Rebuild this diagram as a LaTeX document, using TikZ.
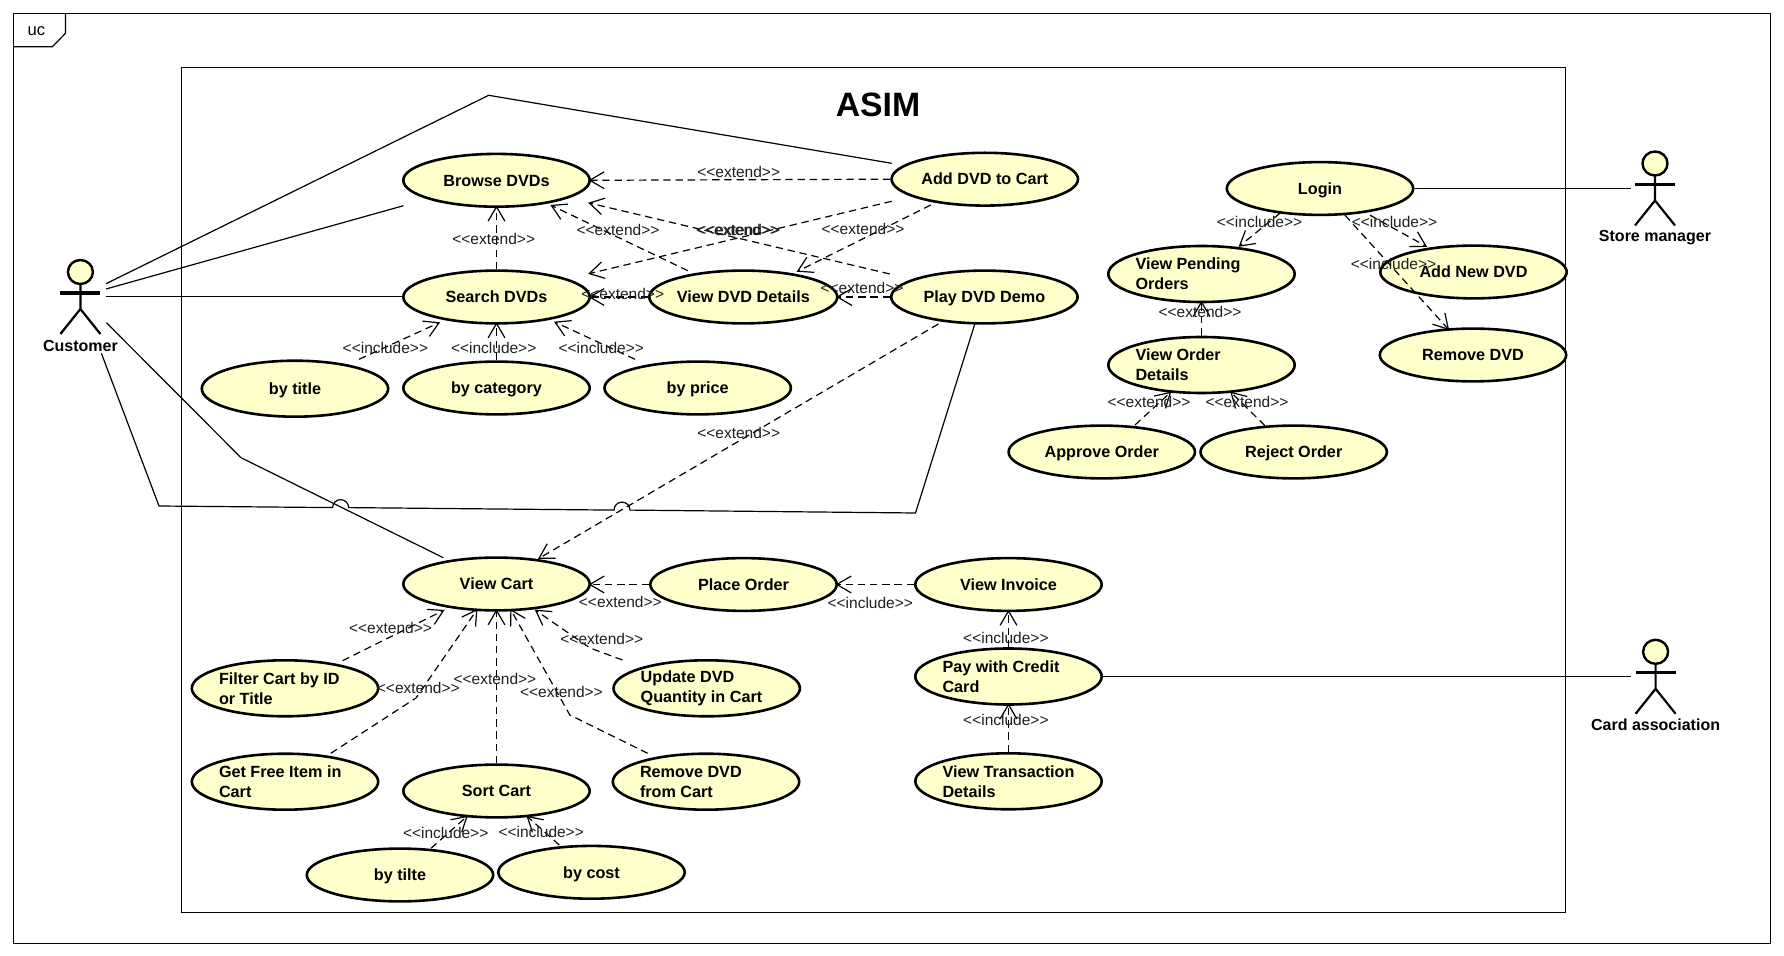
\documentclass[tikz,border=0pt]{standalone}
\usepackage{fontspec}
\setmainfont{Liberation Sans}
\usetikzlibrary{shapes.geometric,arrows.meta}
\definecolor{ucfill}{HTML}{FFFFCB}
\newcommand{\ucbig}[2]{\makebox[0pt]{\parbox{66pt}{\baselineskip=10pt\relax #1\\#2}}}
\tikzset{
  usecasetall/.style={ellipse,draw=black,fill=ucfill,line width=1.3pt,inner sep=0pt,outer sep=.65pt,
    minimum width=93.2pt,minimum height=28pt,font=\fontsize{8.1pt}{10pt}\selectfont\bfseries},
  usecase/.style={usecasetall,minimum height=26.4pt,text height=5.8pt,text depth=0pt},
  stereo/.style={inner sep=0pt,font=\fontsize{7.75pt}{10pt}\selectfont,text=black!88},
  actorname/.style={inner sep=0pt,font=\fontsize{8pt}{10pt}\selectfont\bfseries},
  dep/.style={line width=.6pt,dash pattern=on 3.7pt off 2.4pt,shorten >=-1.2pt,
    -{Straight Barb[length=7.2pt,width=8.4pt,line width=.6pt]}},
  assoc/.style={line width=.6pt,line join=miter},
  frameline/.style={line width=.6pt},
  actorfig/.pic={
    \draw[line width=1.2pt,fill=ucfill] (0,0) ellipse [x radius=12.5,y radius=12];
    \draw[line width=1.6pt] (-20,21) -- (20,21);
    \draw[line width=1.1pt,line join=miter] (0,12) -- (0,37) (-20,62) -- (0,37) -- (20,62);
  }
}
\begin{document}
\begin{tikzpicture}[x=.5pt,y=-.5pt]
\useasboundingbox (0,0) rectangle (1784,956);
\fill[white] (0,0) rectangle (1784,956);
% frames
\draw[frameline] (13.5,13.5) rectangle (1770.5,943.5);
\draw[frameline] (13.5,46.7) -- (52.4,46.7) -- (65.5,33.3) -- (65.5,13.5);
\node[inner sep=0pt,font=\fontsize{8.3pt}{10pt}\selectfont] (uc) at (36.4,30.7) {uc};
\draw[frameline] (181.5,67.5) rectangle (1565.5,912.5);
\node[inner sep=0pt,font=\fontsize{16.9pt}{20pt}\selectfont\bfseries] (title) at (878,105) {ASIM};
% actor anchors
\node[coordinate] (customer) at (80.4,306.5) {};
\node[coordinate] (storem) at (1631,188.5) {};
\node[coordinate] (cardas) at (1630.5,676.5) {};
% associations are drawn first, so that use cases lie over them
\node[coordinate] (addc) at (984.8,179.2) {};
\draw[assoc] ([shift={(25.6,-22.8)}]customer.center) -- (488.7,95.3) -- ([shift={(-93.1,-15.9)}]addc.center);
\node[coordinate] (browsec) at (496.5,180.3) {};
\draw[assoc] ([shift={(25.6,-17.5)}]customer.center) -- ([shift={(-93,25.4)}]browsec.center);
\node[coordinate] (searchc) at (496.5,297) {};
\draw[assoc] ([shift={(25.6,-10)}]customer.center) -- ([shift={(-94,-0.5)}]searchc.center);
\node[coordinate] (cartc) at (496.5,584) {};
\draw[assoc] ([shift={(26,16.2)}]customer.center) -- (241,457.7) -- ([shift={(-53.2,-26.3)}]cartc.center);
\node[coordinate] (playc) at (984.4,297) {};
\draw[assoc] ([shift={(21,46.8)}]customer.center) -- (159,506) -- (332.6,507.6)
   arc[start angle=180,end angle=360,radius=8] -- (614,510.1)
   arc[start angle=180,end angle=360,radius=8] -- (915.5,513) -- ([shift={(-9.6,27)}]playc.center);
% use cases
\node[usecase] (browse) at (browsec) {Browse DVDs};
\node[usecase] (search) at (searchc) {Search DVDs};
\node[usecase,minimum height=28pt] (bytitle) at (295,388.7) {by title};
\node[usecase] (bycat) at (496.5,388) {by category};
\node[usecase] (byprice) at (697.7,388) {by price};
\node[usecase] (add) at (addc) {Add DVD to Cart};
\node[usecase] (dvd) at (743.3,297) {View DVD Details};
\node[usecase] (play) at (playc) {Play DVD Demo};
\node[usecase] (login) at (1320,188.5) {Login};
\node[usecasetall] (pending) at (1201.5,274) {\ucbig{View Pending}{Orders}};
\node[usecasetall] (order) at (1201.5,365) {\ucbig{View Order}{Details}};
\node[usecase] (addnew) at (1473.5,272) {Add New DVD};
\node[usecase] (remove) at (1473,355) {Remove DVD};
\node[usecase] (approve) at (1101.8,452) {Approve Order};
\node[usecase] (reject) at (1293.7,452) {Reject Order};
\node[usecase] (viewcart) at (cartc) {View Cart};
\node[usecase] (place) at (743.5,584.5) {Place Order};
\node[usecase] (invoice) at (1008.5,584.5) {View Invoice};
\node[usecasetall] (pay) at (1008.5,676.5) {\ucbig{Pay with Credit}{Card}};
\node[usecasetall] (trans) at (1008.5,781.3) {\ucbig{View Transaction}{Details}};
\node[usecasetall] (filter) at (285,688.3) {\ucbig{Filter Cart by ID}{or Title}};
\node[usecasetall] (update) at (706.7,688.3) {\ucbig{Update DVD}{Quantity in Cart}};
\node[usecasetall] (getfree) at (285,781.7) {\ucbig{Get Free Item in}{Cart}};
\node[usecase] (sort) at (496.5,791) {Sort Cart};
\node[usecasetall] (removecart) at (706,781.7) {\ucbig{Remove DVD}{from Cart}};
\node[usecase] (bytilte) at (400,875) {by tilte};
\node[usecase] (bycost) at (591.5,872.3) {by cost};
% actors
\pic at (80.4,272) {actorfig};
\node[actorname] (customerlabel) at (80.4,345.7) {Customer};
\pic at (1655,163.5) {actorfig};
\node[actorname] (storelabel) at (1655,237.7) {Store manager};
\pic at (1655.6,651.8) {actorfig};
\node[actorname] (cardlabel) at (1655.6,724.3) {Card association};
\draw[assoc] (login.east) -- (storem);
\draw[assoc] (pay.east) -- (cardas);
% dependencies
\draw[dep] (add.west) -- (browse.east);
\draw[dep] (search.north) -- (browse.south);
\draw[dep] ([shift={(-55.5,-26.3)}]dvd.center) -- ([shift={(56,25.7)}]browse.center);
\draw[dep] ([shift={(-94.6,-23)}]play.center) -- ([shift={(94,23)}]browse.center);
\draw[dep] ([shift={(-93.1,22.1)}]add.center) -- ([shift={(94,-23.7)}]search.center);
\draw[dep] ([shift={(-54,25.8)}]add.center) -- ([shift={(55.5,-26.3)}]dvd.center);
\draw[dep] (dvd.west) -- (search.east);
\draw[dep] (play.west) -- (dvd.east);
\draw[dep] ([shift={(64,-29.4)}]bytitle.center) -- ([shift={(-58.6,26.3)}]search.center);
\draw[dep] (bycat.north) -- (search.south);
\draw[dep] ([shift={(-62.7,-28.7)}]byprice.center) -- ([shift={(59.7,25.7)}]search.center);
\draw[dep] ([shift={(-46,27)}]play.center) -- ([shift={(43.6,-26.3)}]viewcart.center);
\draw[dep] (place.west) -- (place.west -| viewcart.east);
\draw[dep] (invoice.west) -- (place.east);
\draw[dep] (pay.north) -- (invoice.south);
\draw[dep] (trans.north) -- (pay.south);
\draw[dep] ([shift={(57.6,-27.6)}]filter.center) -- ([shift={(-54.1,27)}]viewcart.center);
\draw[dep] ([shift={(45.8,-28.4)}]getfree.center) -- (416,698) -- ([shift={(-20.4,27)}]viewcart.center);
\draw[dep] (sort.north) -- (viewcart.south);
\draw[dep] ([shift={(-58.3,-28.4)}]removecart.center) -- (569.8,715) -- ([shift={(15,27)}]viewcart.center);
\draw[dep] ([shift={(-84.3,-28.3)}]update.center) -- (590,648) -- ([shift={(40.2,27)}]viewcart.center);
\draw[dep] ([shift={(31,-26.7)}]bytilte.center) -- ([shift={(-30.5,26.3)}]sort.center);
\draw[dep] ([shift={(-32.2,-27.3)}]bycost.center) -- ([shift={(31.7,26.3)}]sort.center);
\draw[dep] ([shift={(-40,24.7)}]login.center) -- ([shift={(39,-28.7)}]pending.center);
\draw[dep] ([shift={(50,26.7)}]login.center) -- ([shift={(-48.5,-26.3)}]addnew.center);
\draw[dep] ([shift={(25,26.7)}]login.center) -- ([shift={(-25.5,-26.7)}]remove.center);
\draw[dep] (order.north) -- (pending.south);
\draw[dep] ([shift={(33.2,-27)}]approve.center) -- ([shift={(-32,28.3)}]order.center);
\draw[dep] ([shift={(-28.7,-26.3)}]reject.center) -- ([shift={(30.5,28.3)}]order.center);
% stereotypes
\node[stereo] (s1) at (738.7,171.7) {<{}<extend>{}>};
\node[stereo] (s2) at (493.7,238.7) {<{}<extend>{}>};
\node[stereo] (s3) at (618,230.3) {<{}<extend>{}>};
\node[stereo] (s4) at (737.5,230) {<{}<extend>{}>};
\node[stereo] (s5) at (738.7,230) {<{}<extend>{}>};
\node[stereo] (s6) at (863,229.3) {<{}<extend>{}>};
\node[stereo] (s7) at (622.7,294.3) {<{}<extend>{}>};
\node[stereo] (s8) at (862,288.3) {<{}<extend>{}>};
\node[stereo] (s9) at (385.4,348.3) {<{}<include>{}>};
\node[stereo] (s10) at (493.7,348.3) {<{}<include>{}>};
\node[stereo] (s11) at (601.3,348.3) {<{}<include>{}>};
\node[stereo] (s12) at (738.7,432.7) {<{}<extend>{}>};
\node[stereo] (s13) at (620.3,602.3) {<{}<extend>{}>};
\node[stereo] (s14) at (870.3,602.7) {<{}<include>{}>};
\node[stereo] (s15) at (1005.9,638.3) {<{}<include>{}>};
\node[stereo] (s16) at (1005.9,720.3) {<{}<include>{}>};
\node[stereo] (s17) at (390.5,627.7) {<{}<extend>{}>};
\node[stereo] (s18) at (418.3,688.3) {<{}<extend>{}>};
\node[stereo] (s19) at (494.9,679.3) {<{}<extend>{}>};
\node[stereo] (s20) at (561.4,692.3) {<{}<extend>{}>};
\node[stereo] (s21) at (601.8,639.3) {<{}<extend>{}>};
\node[stereo] (s22) at (445.7,833.3) {<{}<include>{}>};
\node[stereo] (s23) at (541.2,832.3) {<{}<include>{}>};
\node[stereo] (s24) at (1259.5,221.7) {<{}<include>{}>};
\node[stereo] (s25) at (1394.5,221.7) {<{}<include>{}>};
\node[stereo] (s26) at (1393.5,263.7) {<{}<include>{}>};
\node[stereo] (s27) at (1200,311.7) {<{}<extend>{}>};
\node[stereo] (s28) at (1149,401.7) {<{}<extend>{}>};
\node[stereo] (s29) at (1247,401.7) {<{}<extend>{}>};
\end{tikzpicture}
\end{document}
